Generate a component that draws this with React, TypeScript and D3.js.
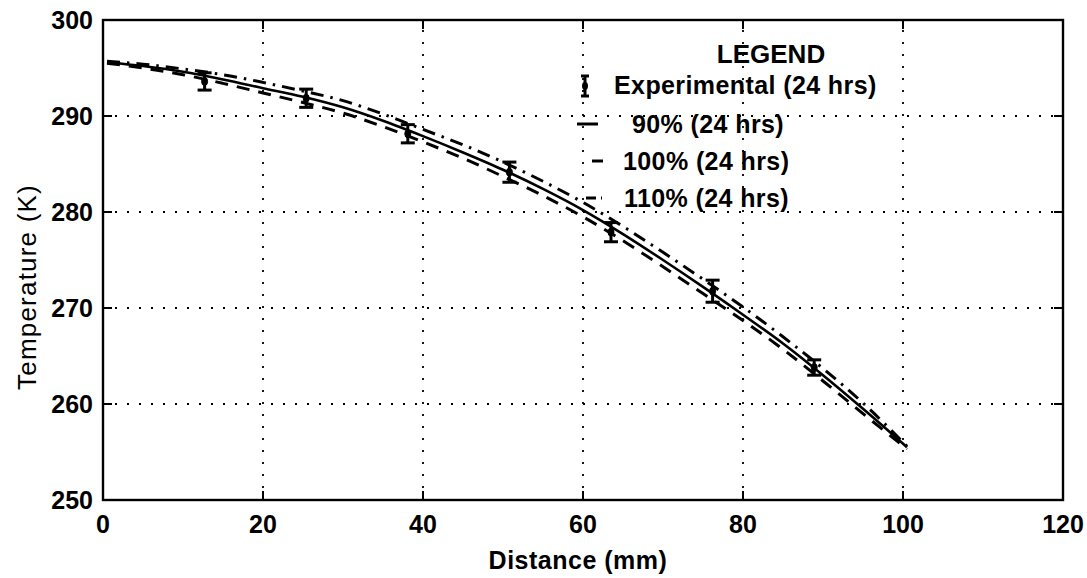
import React, { useEffect, useRef } from "react";
import * as d3 from "d3";

// distance along the sample (mm) and modelled temperature (K)
const dist = [0.5, 5, 10, 15, 20, 25, 30, 35, 40, 45, 50, 55, 60, 65, 70, 75, 80, 85, 90, 95, 100.5];
const t90 = [295.6, 295.2, 294.6, 293.8, 292.9, 292.0, 290.9, 289.5, 287.9, 286.2, 284.4, 282.4, 280.2, 277.7, 275.0, 272.2, 269.3, 266.3, 263.0, 259.5, 255.5];
const t100 = [295.5, 295.0, 294.3, 293.4, 292.4, 291.4, 290.3, 288.9, 287.3, 285.6, 283.7, 281.7, 279.5, 277.0, 274.3, 271.5, 268.7, 265.7, 262.4, 259.0, 255.3];
const t110 = [295.7, 295.4, 294.9, 294.3, 293.5, 292.6, 291.6, 290.2, 288.6, 287.0, 285.2, 283.2, 281.0, 278.5, 275.8, 273.0, 270.1, 267.0, 263.7, 260.1, 255.6];

// experimental points with error bars
const expX = [12.7, 25.4, 38.1, 50.8, 63.5, 76.2, 88.9];
const expT = [293.6, 291.85, 288.15, 284.15, 277.9, 271.75, 263.8];
const expErr = [0.9, 0.95, 0.95, 1.05, 1.0, 1.15, 0.8];

const xTicks = [0, 20, 40, 60, 80, 100, 120];
const yTicks = [250, 260, 270, 280, 290, 300];

const legendLabels = ["90% (24 hrs)", "100% (24 hrs)", "110% (24 hrs)"];
const legendDash = ["none", "11,100", "10,5,2,100"];

const W = 1087;
const H = 578;
const m = { left: 103, right: 1063, top: 20, bottom: 500 };
const font = "'Liberation Sans', Arial, sans-serif";

export default function App() {
  const svgRef = useRef<SVGSVGElement>(null);

  useEffect(() => {
    const svg = d3.select(svgRef.current);
    svg.selectAll("*").remove();

    const x = d3.scaleLinear().domain([0, 120]).range([m.left, m.right]);
    const y = d3.scaleLinear().domain([250, 300]).range([m.bottom, m.top]);

    // dotted grid
    const grid = svg.append("g").attr("stroke", "#000").attr("stroke-width", 1.8).attr("stroke-dasharray", "2,10");
    xTicks.slice(1, -1).forEach((v) => {
      grid.append("line").attr("x1", x(v)).attr("x2", x(v)).attr("y1", m.bottom).attr("y2", m.top);
    });
    yTicks.slice(1, -1).forEach((v) => {
      grid.append("line").attr("x1", m.left).attr("x2", m.right).attr("y1", y(v)).attr("y2", y(v));
    });

    // inward ticks on all four sides
    const tk = svg.append("g").attr("stroke", "#000").attr("stroke-width", 2);
    xTicks.slice(1, -1).forEach((v) => {
      tk.append("line").attr("x1", x(v)).attr("x2", x(v)).attr("y1", m.bottom).attr("y2", m.bottom - 9);
      tk.append("line").attr("x1", x(v)).attr("x2", x(v)).attr("y1", m.top).attr("y2", m.top + 9);
    });
    yTicks.slice(1, -1).forEach((v) => {
      tk.append("line").attr("x1", m.left).attr("x2", m.left + 9).attr("y1", y(v)).attr("y2", y(v));
      tk.append("line").attr("x1", m.right).attr("x2", m.right - 9).attr("y1", y(v)).attr("y2", y(v));
    });

    svg.append("rect")
      .attr("x", m.left).attr("y", m.top)
      .attr("width", m.right - m.left).attr("height", m.bottom - m.top)
      .attr("fill", "none").attr("stroke", "#000").attr("stroke-width", 2.4);

    // tick labels
    svg.append("g").selectAll("text").data(xTicks).join("text")
      .attr("x", (d) => x(d)).attr("y", m.bottom + 33)
      .attr("text-anchor", "middle")
      .attr("font-family", font).attr("font-weight", "bold").attr("font-size", 25)
      .text((d) => d);
    svg.append("g").selectAll("text").data(yTicks).join("text")
      .attr("x", m.left - 10).attr("y", (d) => y(d) + 9)
      .attr("text-anchor", "end")
      .attr("font-family", font).attr("font-weight", "bold").attr("font-size", 25)
      .text((d) => d);

    svg.append("text")
      .attr("x", 578).attr("y", 569)
      .attr("text-anchor", "middle")
      .attr("font-family", font).attr("font-weight", "bold").attr("font-size", 25)
      .attr("letter-spacing", 0.5)
      .text("Distance (mm)");
    svg.append("text")
      .attr("transform", "translate(36,287) rotate(-90)")
      .attr("text-anchor", "middle")
      .attr("font-family", font).attr("font-size", 26)
      .attr("letter-spacing", 1.2)
      .text("Temperature (K)");

    // model curves
    const line = d3.line<number>().x((d, i) => x(dist[i])).y((d) => y(d)).curve(d3.curveMonotoneX);
    svg.append("path").attr("d", line(t90)).attr("fill", "none").attr("stroke", "#000").attr("stroke-width", 2.6);
    svg.append("path").attr("d", line(t100)).attr("fill", "none").attr("stroke", "#000").attr("stroke-width", 3)
      .attr("stroke-dasharray", "13,9");
    svg.append("path").attr("d", line(t110)).attr("fill", "none").attr("stroke", "#000").attr("stroke-width", 3)
      .attr("stroke-dasharray", "13,7,2.5,7");

    // experimental error bars
    const eb = svg.append("g").attr("stroke", "#000");
    expX.forEach((v, i) => {
      const cx = x(v);
      const top = y(expT[i] + expErr[i]);
      const bot = y(expT[i] - expErr[i]);
      eb.append("line").attr("x1", cx).attr("x2", cx).attr("y1", top).attr("y2", bot).attr("stroke-width", 3);
      eb.append("line").attr("x1", cx - 7).attr("x2", cx + 7).attr("y1", top).attr("y2", top).attr("stroke-width", 3);
      eb.append("line").attr("x1", cx - 7).attr("x2", cx + 7).attr("y1", bot).attr("y2", bot).attr("stroke-width", 3);
      eb.append("ellipse").attr("cx", cx).attr("cy", y(expT[i])).attr("rx", 3).attr("ry", 4).attr("fill", "#000");
    });

    // legend
    const lg = svg.append("g").attr("font-family", font).attr("font-size", 25).attr("font-weight", "bold");
    lg.append("text").attr("x", 771).attr("y", 63).attr("text-anchor", "middle").attr("font-size", 26).text("LEGEND");
    lg.append("text").attr("x", 614).attr("y", 94).attr("letter-spacing", 0.4).text("Experimental (24 hrs)");
    const ix = 585;
    lg.append("line").attr("x1", ix).attr("x2", ix).attr("y1", 76).attr("y2", 96).attr("stroke", "#000").attr("stroke-width", 3);
    lg.append("line").attr("x1", ix - 4).attr("x2", ix + 4).attr("y1", 76).attr("y2", 76).attr("stroke", "#000").attr("stroke-width", 3);
    lg.append("line").attr("x1", ix - 4).attr("x2", ix + 4).attr("y1", 96).attr("y2", 96).attr("stroke", "#000").attr("stroke-width", 3);
    lg.append("ellipse").attr("cx", ix).attr("cy", 86).attr("rx", 3).attr("ry", 4).attr("fill", "#000");

    const rowY = [133, 170, 207];
    const textX = [632, 623, 624];
    const sampleX = [[577, 598], [592, 603], [586, 602]];
    legendLabels.forEach((lab, i) => {
      lg.append("line")
        .attr("x1", sampleX[i][0]).attr("x2", sampleX[i][1])
        .attr("y1", rowY[i] - 9).attr("y2", rowY[i] - 9)
        .attr("stroke", "#000").attr("stroke-width", 3)
        .attr("stroke-dasharray", legendDash[i]);
      lg.append("text").attr("x", textX[i]).attr("y", rowY[i]).attr("letter-spacing", 0.4).text(lab);
    });
  }, []);

  return (
    <svg
      ref={svgRef}
      width={W}
      height={H}
      style={{ position: "absolute", left: 0, top: 0, background: "#fff" }}
    />
  );
}
